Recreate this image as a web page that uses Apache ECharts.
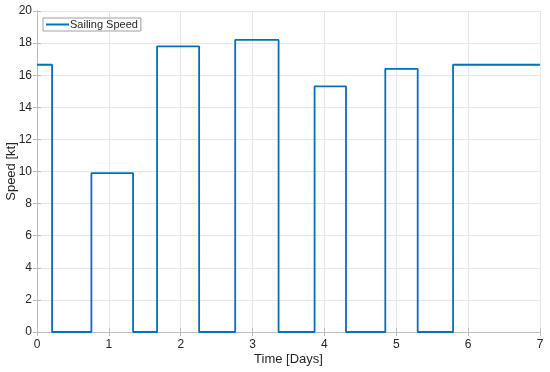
<!DOCTYPE html>
<html><head><meta charset="utf-8">
<script src="https://cdn.jsdelivr.net/npm/echarts@6/dist/echarts.min.js"></script>
<style>html,body{margin:0;padding:0;background:#fff}#c{width:550px;height:372px}</style>
</head><body><div id="c"></div>
<script>
const seriesName = 'Sailing Speed';
const timeDays = [0, 0.21, 0.757, 1.337, 1.671, 2.256, 2.758, 3.362, 3.863, 4.30, 4.847, 5.298, 5.79, 7];
const speedKt = [16.65, 0, 9.9, 0, 17.8, 0, 18.2, 0, 15.3, 0, 16.4, 0, 16.65, 16.65];
const xTitle = 'Time [Days]';
const yTitle = 'Speed [kt]';

const data = timeDays.map((t, i) => [t, speedKt[i]]);
const font = 'Liberation Sans, Arial, sans-serif';
const frame = '#262626';
const gridC = '#e6e6e6';
const chart = echarts.init(document.getElementById('c'));
const baseAxis = {
  axisLine: {show: true, lineStyle: {color: '#bdbdbd', width: 1}},
  axisTick: {show: true, inside: true, length: 4, lineStyle: {color: '#bdbdbd'}},
  splitLine: {show: true, lineStyle: {color: gridC, width: 1}},
  axisLabel: {color: frame, fontFamily: font, fontSize: 12},
};
chart.setOption({
  animation: false,
  grid: {left: 37, right: 10, top: 11, bottom: 40, containLabel: false, outerBoundsMode: 'none'},
  legend: {
    left: 43, top: 18, orient: 'vertical',
    borderColor: '#a0a0a0', borderWidth: 1, borderRadius: 0,
    padding: [1, 3, 1, 3], itemWidth: 23, itemHeight: 2, itemGap: 2,
    icon: 'rect',
    textStyle: {fontFamily: font, fontSize: 11, color: frame, padding: [0, 0, 0, -4]},
    data: [seriesName]
  },
  xAxis: [
    Object.assign({}, baseAxis, {type: 'value', min: 0, max: 7, interval: 1,
      name: xTitle, nameLocation: 'middle', nameGap: 21, nameMoveOverlap: false,
      nameTextStyle: {color: frame, fontFamily: font, fontSize: 13},
      axisLabel: {color: frame, fontFamily: font, fontSize: 12, margin: 7}}),
    {type: 'value', min: 0, max: 7, interval: 1, position: 'top',
      axisLine: {show: true, lineStyle: {color: '#bdbdbd'}},
      axisTick: {show: true, inside: true, length: 4, lineStyle: {color: '#bdbdbd'}},
      axisLabel: {show: false}, splitLine: {show: false}}
  ],
  yAxis: [
    Object.assign({}, baseAxis, {type: 'value', min: 0, max: 20, interval: 2,
      name: yTitle, nameLocation: 'middle', nameGap: 19, nameMoveOverlap: false,
      nameTextStyle: {color: frame, fontFamily: font, fontSize: 13},
      axisLabel: {color: frame, fontFamily: font, fontSize: 12, margin: 5}}),
    {type: 'value', min: 0, max: 20, interval: 2, position: 'right',
      axisLine: {show: true, lineStyle: {color: '#bdbdbd'}},
      axisTick: {show: true, inside: true, length: 4, lineStyle: {color: '#bdbdbd'}},
      axisLabel: {show: false}, splitLine: {show: false}}
  ],
  series: [{
    name: seriesName, type: 'line', step: 'end', data: data,
    xAxisIndex: 0, yAxisIndex: 0,
    showSymbol: false, symbol: 'none',
    lineStyle: {color: '#0072BD', width: 1.8},
    itemStyle: {color: '#0072BD'}
  }]
});
</script></body></html>
